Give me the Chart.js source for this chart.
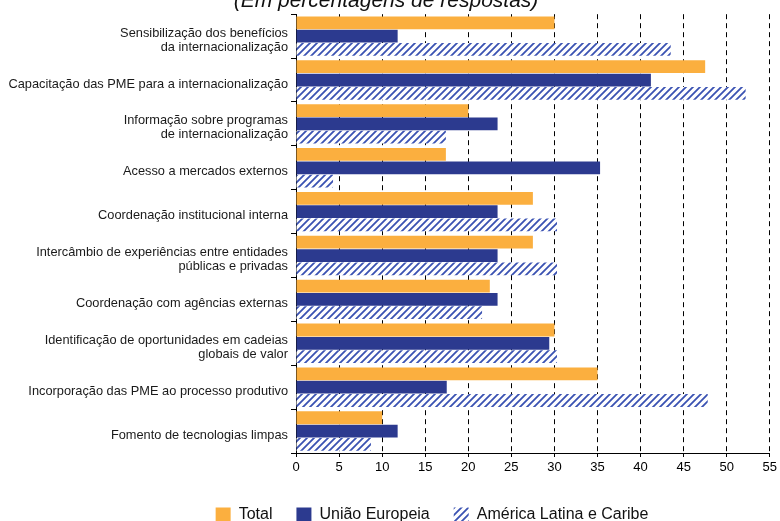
<!DOCTYPE html>
<html lang="pt">
<head>
<meta charset="utf-8">
<title>Áreas de cooperação</title>
<script src="https://cdn.jsdelivr.net/npm/chart.js@4/dist/chart.umd.min.js"></script>
<style>
  html, body { margin: 0; padding: 0; background: #fff; overflow: hidden; }
  #wrap { position: absolute; left: 0; top: -11px; width: 780px; height: 544px; }
</style>
</head>
<body>
<div id="wrap"><canvas id="chart"></canvas></div>
<script>
// categorias (eixo vertical)
const categories = [
    ['Sensibilização dos benefícios', 'da internacionalização'],
    'Capacitação das PME para a internacionalização',
    ['Informação sobre programas', 'de internacionalização'],
    'Acesso a mercados externos',
    'Coordenação institucional interna',
    ['Intercâmbio de experiências entre entidades', 'públicas e privadas'],
    'Coordenação com agências externas',
    ['Identificação de oportunidades em cadeias', 'globais de valor'],
    'Incorporação das PME ao processo produtivo',
    'Fomento de tecnologias limpas'
];

// séries (% de respostas)
const totalValues = [30, 47.5, 20, 17.4, 27.5, 27.5, 22.5, 30, 35, 10];
const ueValues = [11.8, 41.2, 23.4, 35.3, 23.4, 23.4, 23.4, 29.4, 17.5, 11.8];
const alcValues = [43.5, 52.2, 17.4, 4.3, 30.3, 30.3, 21.6, 30.3, 47.8, 8.7];

const seriesNames = ['Total', 'União Europeia', 'América Latina e Caribe'];
const xTicks = [0, 5, 10, 15, 20, 25, 30, 35, 40, 45, 50, 55];

const FONT = "'Liberation Sans', Arial, sans-serif";

/**
 * padrão tracejado diagonal para a série América Latina e Caribe
 */
function makeHatch() {
    const s = 7;
    const c = document.createElement('canvas');
    c.width = s; c.height = s;
    const g = c.getContext('2d');
    g.fillStyle = '#ffffff';
    g.fillRect(0, 0, s, s);
    g.strokeStyle = '#3a52b2';
    g.lineWidth = 1.8;
    g.beginPath();
    g.moveTo(0, s); g.lineTo(s, 0);
    g.moveTo(-1, 1); g.lineTo(1, -1);
    g.moveTo(s - 1, s + 1); g.lineTo(s + 1, s - 1);
    g.stroke();
    return g.createPattern(c, 'repeat');
}

// desloca a legenda para a direita, como no original
const legendShift = {
    id: 'legendShift',
    afterLayout(chart) {
        const l = chart.legend;
        if (!l) return;
        l.left += 46;
        l.right += 46;
    }
};

const hatch = makeHatch();

new Chart(document.getElementById('chart'), {
    type: 'bar',
    data: {
        labels: categories,
        datasets: [
            { label: seriesNames[0], data: totalValues, backgroundColor: '#fbaf3f', borderWidth: 0 },
            { label: seriesNames[1], data: ueValues, backgroundColor: '#2c3a8f', borderWidth: 0 },
            { label: seriesNames[2], data: alcValues, backgroundColor: hatch, borderWidth: 0 }
        ]
    },
    options: {
        indexAxis: 'y',
        responsive: true,
        maintainAspectRatio: false,
        animation: false,
        layout: { padding: { left: 0, right: 8, top: 0, bottom: 0 } },
        datasets: { bar: { categoryPercentage: 0.91, barPercentage: 0.96 } },
        plugins: {
            title: {
                display: true,
                text: '(Em percentagens de respostas)',
                color: '#111',
                font: { family: FONT, size: 21, style: 'italic', weight: 'normal' },
                padding: { top: 0, bottom: 0 }
            },
            legend: {
                position: 'bottom',
                labels: {
                    color: '#111',
                    boxWidth: 15,
                    boxHeight: 15,
                    padding: 24,
                    font: { family: FONT, size: 16 }
                }
            },
            tooltip: { enabled: false }
        },
        scales: {
            x: {
                min: 0,
                max: 55,
                afterBuildTicks(scale) { scale.ticks = xTicks.map(v => ({ value: v })); },
                afterFit(scale) { scale.height = 30; },
                grid: { color: '#000', lineWidth: 1, drawTicks: true, tickLength: 4 },
                border: { display: true, color: '#000', width: 1, dash: [5, 4] },
                ticks: { color: '#000', padding: 3, font: { family: FONT, size: 13 } }
            },
            y: {
                afterFit(scale) { scale.width = 296; },
                grid: { offset: true, drawOnChartArea: false, drawTicks: true, tickLength: 5, color: '#000' },
                border: { display: true, color: '#000', width: 1 },
                ticks: { color: '#1a1a1a', padding: 3, labelOffset: 4, font: { family: FONT, size: 12.8, lineHeight: 1.1 } }
            }
        }
    },
    plugins: [legendShift]
});
</script>
</body>
</html>
